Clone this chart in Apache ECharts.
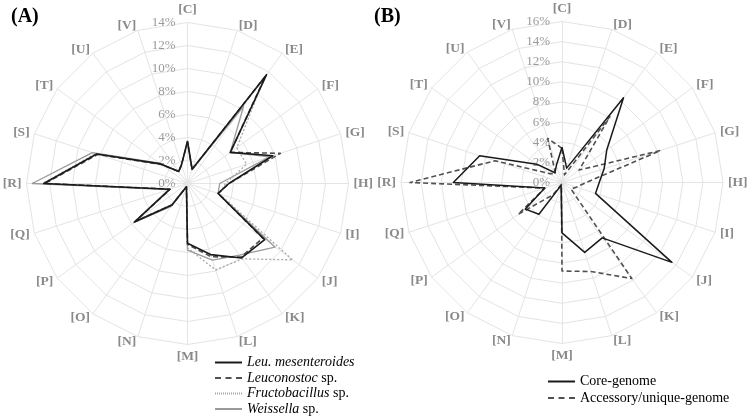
<!DOCTYPE html>
<html><head><meta charset="utf-8">
<script src="https://cdn.jsdelivr.net/npm/echarts@6/dist/echarts.min.js"></script>
<style>html,body{margin:0;padding:0;background:#fff}#c{width:750px;height:418px}</style>
</head><body><div id="c"></div>
<script>
// COG categories, clockwise from the top
const categories = ['C','D','E','F','G','H','I','J','K','L','M','N','O','P','Q','R','S','T','U','V'];

// Panel A (% of genes)
const leuMesenteroides = [3.7,1.3,11.7,4.6,7.8,3.6,2.8,8.3,8.0,6.5,5.2,0.3,2.3,5.7,1.6,12.5,8.3,2.9,1.3,1.7];
const leuconostocSp    = [3.6,1.3,11.5,4.6,8.5,3.6,2.8,8.1,7.9,6.7,5.3,0.3,2.3,5.6,1.6,12.4,8.2,2.8,1.3,1.7];
const fructobacillusSp = [3.5,1.2,11.4,5.3,5.4,3.3,2.9,11.3,8.1,7.9,5.6,0.3,2.2,5.5,1.6,12.6,8.4,2.8,1.3,1.7];
const weissellaSp      = [3.6,1.3,8.3,4.6,7.5,2.8,2.8,9.4,7.7,7.0,5.8,0.3,2.5,5.8,1.7,13.5,8.7,3.0,1.3,1.7];

// Panel B (% of genes)
const coreGenome      = [3.5,1.5,10.4,5.5,4.4,3.7,3.5,13.5,6.8,7.3,5.0,0.3,3.9,4.5,1.8,10.8,8.6,3.1,1.2,1.8];
const accessoryGenome = [3.4,0.8,8.1,2.1,10.3,2.4,1.5,1.1,11.8,9.3,8.8,0.2,1.5,5.4,1.8,15.1,7.0,1.5,1.1,4.6];

const maxA = 14, maxB = 16, stepA = 2, stepB = 2;
const tickSuffix = '%';

const namesA = ['Leu. mesenteroides','Leuconostoc sp.','Fructobacillus sp.','Weissella sp.'];
const labelsA = ['{i|Leu. mesenteroides}','{i|Leuconostoc} sp.','{i|Fructobacillus} sp.','{i|Weissella} sp.'];
const namesB = ['Core-genome','Accessory/unique-genome'];

// ECharts radar runs counter-clockwise; reorder so the reference runs clockwise
const order = [0].concat(Array.from({length: categories.length - 1}, (_, i) => categories.length - 1 - i));
const reorder = arr => order.map(i => arr[i]);

const SERIF = 'Liberation Serif';
function radarCfg(center, max, step) {
  return {
    center: center, radius: 161, startAngle: 90, shape: 'polygon',
    splitNumber: max / step,
    indicator: order.map((ci, k) => ({
      name: '[' + categories[ci] + ']', min: 0, max: max,
      axisLabel: {show: k === 0}
    })),
    axisName: {color: '#8a8a8a', fontFamily: SERIF, fontWeight: 'bold', fontSize: 13.5},
    nameGap: 5,
    axisLine: {lineStyle: {color: '#e4e4e4', width: 1}},
    splitLine: {lineStyle: {color: '#e4e4e4', width: 1}},
    splitArea: {show: false},
    axisTick: {show: false},
    axisLabel: {formatter: v => v + tickSuffix, color: '#9a9a9a', fontFamily: SERIF, fontSize: 13,
      margin: 0, align: 'right', verticalAlign: 'middle', padding: [0, 12, 0, 0]}
  };
}

const DASH = 'path://M0,0H6V2H0Z M10.5,0H16.5V2H10.5Z M21,0H27V2H21Z';
const SOLID = 'path://M0,0H27V2H0Z';
let dots = '';
for (let x = 0; x < 27; x += 2) dots += 'M' + x + ',0H' + (x + 1) + 'V2H' + x + 'Z ';
const DOT = 'path://' + dots.trim();

const chart = echarts.init(document.getElementById('c'), null, {renderer: 'canvas'});
chart.setOption({
  animation: false,
  backgroundColor: '#fff',
  title: [
    {text: '(A)', left: 11, top: 7, padding: 0, textStyle: {fontFamily: SERIF, fontWeight: 'bold', fontSize: 20, color: '#000'}},
    {text: '(B)', left: 374, top: 7, padding: 0, textStyle: {fontFamily: SERIF, fontWeight: 'bold', fontSize: 20, color: '#000'}}
  ],
  radar: [radarCfg([187.5, 183.5], maxA, stepA), radarCfg([562, 182.5], maxB, stepB)],
  legend: [
    {
      orient: 'vertical', left: 215, top: 355.5, padding: 0, itemGap: 1.5,
      itemWidth: 27, itemHeight: 2, selectedMode: false,
      data: [
        {name: namesA[0], icon: SOLID, itemStyle: {color: '#1a1a1a'}},
        {name: namesA[1], icon: DASH, itemStyle: {color: '#505050'}},
        {name: namesA[2], icon: DOT, itemStyle: {color: '#a8a8a8'}},
        {name: namesA[3], icon: SOLID, itemStyle: {color: '#9a9a9a'}}
      ],
      formatter: name => labelsA[namesA.indexOf(name)],
      textStyle: {fontFamily: SERIF, fontSize: 14, color: '#000',
        rich: {i: {fontFamily: SERIF, fontSize: 14, fontStyle: 'italic', color: '#000'}}}
    },
    {
      orient: 'vertical', left: 548, top: 374.5, padding: 0, itemGap: 2.5,
      itemWidth: 27, itemHeight: 2, selectedMode: false,
      data: [
        {name: namesB[0], icon: SOLID, itemStyle: {color: '#1a1a1a'}},
        {name: namesB[1], icon: DASH, itemStyle: {color: '#505050'}}
      ],
      textStyle: {fontFamily: SERIF, fontSize: 14, color: '#000'}
    }
  ],
  series: [
    {
      type: 'radar', radarIndex: 0, symbol: 'none', silent: true,
      data: [
        {name: namesA[3], value: reorder(weissellaSp), lineStyle: {color: '#9a9a9a', width: 1.3, type: 'solid'}, itemStyle: {color: '#9a9a9a'}},
        {name: namesA[2], value: reorder(fructobacillusSp), lineStyle: {color: '#a8a8a8', width: 1.3, type: [2, 2]}, itemStyle: {color: '#a8a8a8'}},
        {name: namesA[1], value: reorder(leuconostocSp), lineStyle: {color: '#505050', width: 1.6, type: [5, 3]}, itemStyle: {color: '#505050'}},
        {name: namesA[0], value: reorder(leuMesenteroides), lineStyle: {color: '#1a1a1a', width: 1.6, type: 'solid'}, itemStyle: {color: '#1a1a1a'}}
      ]
    },
    {
      type: 'radar', radarIndex: 1, symbol: 'none', silent: true,
      data: [
        {name: namesB[1], value: reorder(accessoryGenome), lineStyle: {color: '#505050', width: 1.6, type: [5, 3]}, itemStyle: {color: '#505050'}},
        {name: namesB[0], value: reorder(coreGenome), lineStyle: {color: '#1a1a1a', width: 1.5, type: 'solid'}, itemStyle: {color: '#1a1a1a'}}
      ]
    }
  ]
});
</script>
</body></html>
